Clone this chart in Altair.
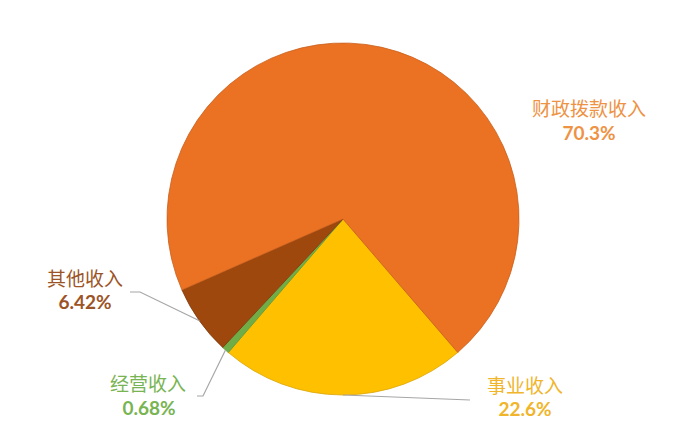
import math
import altair as alt
import pandas as pd

# ---- data ----
categories = ["事业收入", "经营收入", "其他收入", "财政拨款收入"]
values = [22.6, 0.68, 6.42, 70.3]
pct_labels = ["22.6%", "0.68%", "6.42%", "70.3%"]
slice_colors = ["#FFC000", "#70AD47", "#9E480E", "#EB7123"]
edge_colors = ["#D9A300", "#5E9A3A", "#80390A", "#C9601C"]
label_colors = ["#F0B52B", "#78B452", "#9C5426", "#EE9244"]

# ---- layout (annotation positions, view pixels) ----
W, H = 674, 414
CX, CY, R = 335, 211, 176
START = math.radians(139.3)
label_pos = {  # name line (x, y), percent line (x, y)
    "事业收入": ((517, 379), (517, 402)),
    "经营收入": ((140, 377), (141, 401)),
    "其他收入": ((77, 272), (77, 295)),
    "财政拨款收入": ((581, 102), (581, 126)),
}
leader_outer = {  # outer points of leader lines (elbow first from the label end)
    "事业收入": [(462, 392)],
    "经营收入": [(189, 388), (195, 388)],
    "其他收入": [(122, 284), (132, 284)],
}

df = pd.DataFrame({
    "cat": categories, "value": values, "pct": pct_labels,
    "order": list(range(len(categories))),
})

total = sum(values)
cum = 0.0
mids = []
for v in values:
    mids.append(START + (cum + v / 2) / total * 2 * math.pi)
    cum += v

text_rows = []
for c, p, col in zip(categories, pct_labels, label_colors):
    (nx, ny), (px, py) = label_pos[c]
    text_rows.append({"cat": c, "txt": c, "x": nx, "y": ny, "kind": "name", "col": col})
    text_rows.append({"cat": c, "txt": p, "x": px, "y": py, "kind": "pct", "col": col})
tdf = pd.DataFrame(text_rows)

line_rows = []
for c, m in zip(categories, mids):
    if c not in leader_outer:
        continue
    pts = list(leader_outer[c])
    pts.append((CX + R * math.sin(m), CY - R * math.cos(m)))
    for i, (x, y) in enumerate(pts):
        line_rows.append({"cat": c, "x": x, "y": y, "i": i})
ldf = pd.DataFrame(line_rows)

pie = alt.Chart(df).mark_arc(strokeWidth=0.8).encode(
    theta=alt.Theta("value:Q", stack=True,
                    scale=alt.Scale(range=[START, START + 2 * math.pi])),
    order=alt.Order("order:Q"),
    color=alt.Color("cat:N", scale=alt.Scale(domain=categories, range=slice_colors), legend=None),
    stroke=alt.Stroke("cat:N", scale=alt.Scale(domain=categories, range=edge_colors), legend=None),
    x=alt.value(CX), y=alt.value(CY), radius=alt.value(R),
)

lines = alt.Chart(ldf).mark_line(color="#A6A6A6", strokeWidth=1.2).encode(
    x=alt.X("x:Q", scale=None, axis=None),
    y=alt.Y("y:Q", scale=None, axis=None),
    detail="cat:N",
    order="i:Q",
)

names = alt.Chart(tdf[tdf.kind == "name"]).mark_text(
    font="Noto Sans CJK SC", fontSize=19, fontWeight="normal", align="center", baseline="middle"
).encode(
    x=alt.X("x:Q", scale=None), y=alt.Y("y:Q", scale=None),
    text="txt:N", color=alt.Color("col:N", scale=None),
)

pcts = alt.Chart(tdf[tdf.kind == "pct"]).mark_text(
    font="Lato", fontSize=19, fontWeight="bold", align="center", baseline="middle"
).encode(
    x=alt.X("x:Q", scale=None), y=alt.Y("y:Q", scale=None),
    text="txt:N", color=alt.Color("col:N", scale=None),
)

chart = alt.layer(pie, lines, names, pcts).properties(
    width=W, height=H, autosize=alt.AutoSizeParams(type="none"), padding=0,
    background="white",
).configure_view(stroke=None)

chart.save("out.html", embed_options={"renderer": "svg", "actions": False})
